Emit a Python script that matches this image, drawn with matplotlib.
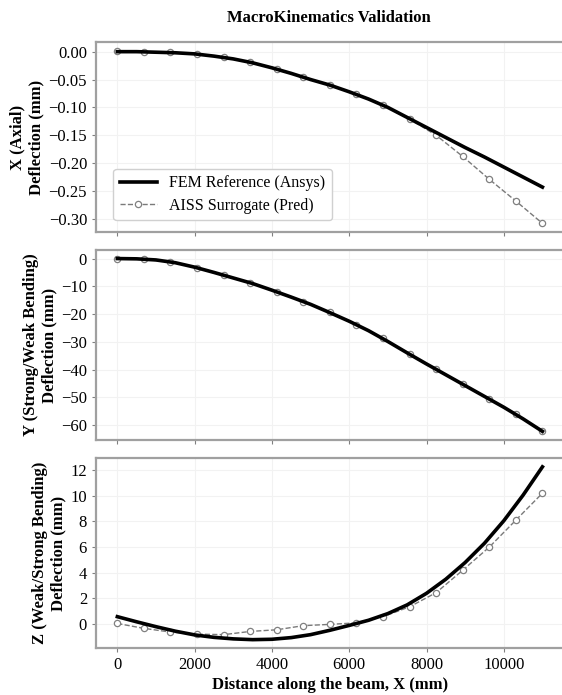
import matplotlib
matplotlib.use("Agg")
import matplotlib.pyplot as plt
from matplotlib.ticker import MultipleLocator, FuncFormatter
import numpy as np

plt.rcParams["font.family"] = ["Liberation Serif", "DejaVu Serif"]
plt.rcParams["font.size"] = 11

# FEM reference, sampled every 500 mm along the beam
x_fem = [0, 500, 1000, 1500, 2000, 2500, 3000, 3500, 4000, 4500, 5000, 5500,
         6000, 6500, 7000, 7500, 8000, 8500, 9000, 9500, 10000, 10500, 11000]
ux_fem = [0.000, 0.000, -0.001, -0.002, -0.004, -0.008, -0.013, -0.020, -0.029,
          -0.039, -0.050, -0.060, -0.072, -0.085, -0.100, -0.118, -0.136, -0.154,
          -0.172, -0.189, -0.207, -0.225, -0.243]
uy_fem = [0.0, -0.1, -0.5, -1.5, -3.1, -5.0, -7.0, -9.0, -11.4, -13.9, -16.5,
          -19.5, -22.6, -26.0, -29.9, -34.0, -38.0, -41.9, -45.8, -49.7, -53.6,
          -57.8, -62.3]
uz_fem = [0.58, 0.18, -0.20, -0.55, -0.84, -1.03, -1.15, -1.21, -1.18, -1.05,
          -0.82, -0.48, -0.10, 0.30, 0.82, 1.50, 2.40, 3.50, 4.80, 6.30, 8.05,
          10.05, 12.25]

# surrogate prediction, 17 nodes
x_pred = [0, 687.5, 1375, 2062.5, 2750, 3437.5, 4125, 4812.5, 5500, 6187.5,
          6875, 7562.5, 8250, 8937.5, 9625, 10312.5, 11000]
ux_pred = [0.002, 0.000, -0.001, -0.004, -0.010, -0.019, -0.031, -0.046, -0.060,
           -0.076, -0.096, -0.121, -0.150, -0.188, -0.229, -0.268, -0.308]
uy_pred = [0.0, -0.3, -1.2, -3.3, -5.9, -8.8, -12.0, -15.6, -19.4, -23.8, -28.8,
           -34.4, -39.9, -45.3, -50.6, -56.2, -62.0]
uz_pred = [0.05, -0.33, -0.62, -0.78, -0.82, -0.57, -0.44, -0.12, -0.02, 0.10,
           0.58, 1.35, 2.45, 4.20, 6.00, 8.10, 10.20]

ylabels = ["X (Axial)\nDeflection (mm)",
           "Y (Strong/Weak Bending)\nDeflection (mm)",
           "Z (Weak/Strong Bending)\nDeflection (mm)"]
ysteps = [0.05, 10, 2]
yfmts = ["%.2f", "%d", "%d"]


def make_fmt(f):
    def fmt(v, pos):
        if abs(v) < 1e-12:
            v = 0
        return (f % v).replace("-", "\u2212")
    return FuncFormatter(fmt)


fig = plt.figure(figsize=(5.62, 6.95), dpi=100)
left, width, height = 0.171, 0.832, 0.2735
bottoms = [0.6662, 0.3669, 0.0672]
axes = []
for b in bottoms:
    ax = fig.add_axes([left, b, width, height], sharex=axes[0] if axes else None)
    axes.append(ax)

fem_data = [ux_fem, uy_fem, uz_fem]
pred_data = [ux_pred, uy_pred, uz_pred]

for ax, yf, yp, lab, st, fm in zip(axes, fem_data, pred_data, ylabels, ysteps, yfmts):
    ax.plot(x_fem, yf, color="black", lw=2.6, label="FEM Reference (Ansys)", zorder=3)
    ax.plot(x_pred, yp, color="#7a7a7a", lw=1.0, ls="--", marker="o", ms=4.5,
            mfc="white", mec="#808080", mew=0.9, label="AISS Surrogate (Pred)", zorder=2)
    ax.yaxis.set_major_locator(MultipleLocator(st))
    ax.yaxis.set_major_formatter(make_fmt(fm))
    ax.grid(True, color="#f2f2f2", lw=0.8)
    ax.set_axisbelow(True)
    for s in ax.spines.values():
        s.set_color("#a0a0a0")
        s.set_linewidth(1.6)
    ax.tick_params(direction="out", length=3, width=0.8, color="#808080", labelsize=12)
    ax.set_ylabel(lab, fontweight="bold", fontsize=12, labelpad=3)

for ax in axes[:2]:
    ax.tick_params(labelbottom=False)

axes[2].set_xticks([0, 2000, 4000, 6000, 8000, 10000])
axes[2].set_xlabel("Distance along the beam, X (mm)", fontweight="bold", fontsize=12, labelpad=3)

axes[0].legend(loc="lower left", fontsize=11.5, handlelength=2.3, frameon=True,
               edgecolor="#d0d0d0", fancybox=True, framealpha=1.0,
               borderpad=0.4, labelspacing=0.4, bbox_to_anchor=(0.02, 0.02))

fig.text(0.585, 0.974, "MacroKinematics Validation", ha="center", va="center",
         fontweight="bold", fontsize=12)

fig.savefig("out.png", dpi=100)
